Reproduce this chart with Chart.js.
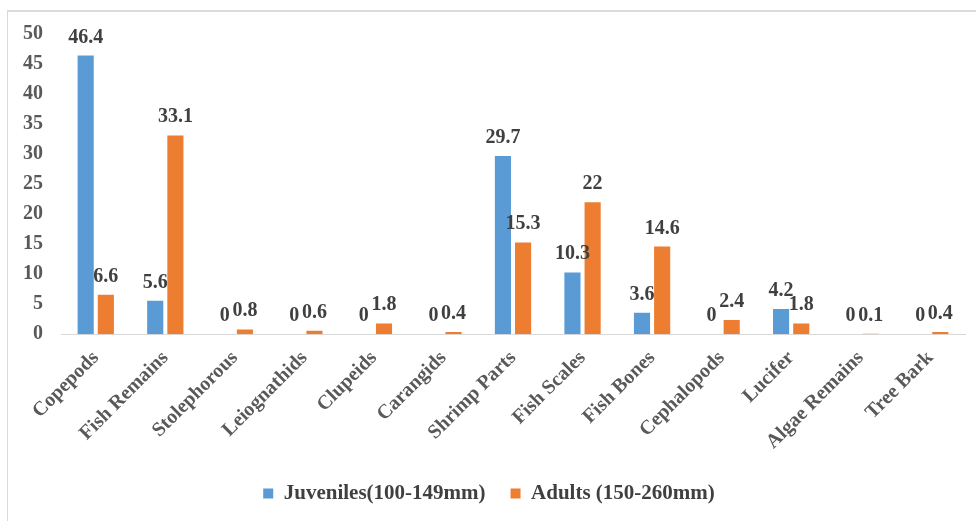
<!DOCTYPE html>
<html>
<head>
<meta charset="utf-8">
<script src="https://cdn.jsdelivr.net/npm/chart.js@4.4.1/dist/chart.umd.min.js"></script>
<style>
  html, body { margin: 0; padding: 0; background: #fff; }
  #frame {
    position: absolute; left: 7px; top: 10px; width: 980px; height: 520px;
    border-left: 1px solid #d9d9d9; border-top: 2px solid #dcdcdc;
  }
  #wrap { position: absolute; left: 0; top: 0; width: 968px; height: 510px; }
</style>
</head>
<body>
<div id="frame"><div id="wrap"><canvas id="chart-bars"></canvas></div></div>
<script>
// categorias de alimento
const categories = ["Copepods", "Fish Remains", "Stolephorous", "Leiognathids", "Clupeids", "Carangids",
  "Shrimp Parts", "Fish Scales", "Fish Bones", "Cephalopods", "Lucifer", "Algae Remains", "Tree Bark"];
const juveniles = [46.4, 5.6, 0, 0, 0, 0, 29.7, 10.3, 3.6, 0, 4.2, 0, 0];
const adults = [6.6, 33.1, 0.8, 0.6, 1.8, 0.4, 15.3, 22, 14.6, 2.4, 1.8, 0.1, 0.4];
const yTicks = [0, 5, 10, 15, 20, 25, 30, 35, 40, 45, 50];

const serif = "'Liberation Serif', 'Times New Roman', serif";

// etiquetas encima de cada barra
const valueLabels = {
  id: "valueLabels",
  afterDatasetsDraw(chart) {
    const c = chart.ctx;
    c.save();
    c.font = "bold 20px " + serif;
    c.fillStyle = "#404040";
    c.textAlign = "center";
    c.textBaseline = "alphabetic";
    chart.data.datasets.forEach((ds, i) => {
      chart.getDatasetMeta(i).data.forEach((bar, j) => {
        c.fillText(String(ds.data[j]), bar.x, bar.y - 13);
      });
    });
    c.restore();
  }
};

const ctx = document.getElementById("chart-bars").getContext("2d");
let myChart = new Chart(ctx, {
  type: "bar",
  data: {
    labels: categories,
    datasets: [
      {
        label: "Juveniles(100-149mm)",
        data: juveniles,
        backgroundColor: "#5b9bd5",
        categoryPercentage: 0.58,
        barPercentage: 0.8,
      },
      {
        label: "Adults (150-260mm)",
        data: adults,
        backgroundColor: "#ed7d31",
        categoryPercentage: 0.58,
        barPercentage: 0.8,
      }
    ],
  },
  options: {
    responsive: true,
    maintainAspectRatio: false,
    animation: false,
    layout: { padding: { left: 5, right: 11, top: 14, bottom: 8 } },
    plugins: {
      tooltip: { enabled: false },
      legend: {
        position: "bottom",
        labels: {
          boxWidth: 10, boxHeight: 10, padding: 25,
          color: "#404040",
          font: { family: serif, size: 21, weight: "bold" },
        },
      },
    },
    scales: {
      x: {
        grid: { display: false },
        border: { display: true, color: "#d9d9d9", width: 1 },
        afterFit(scale) { scale.paddingLeft = 0; scale.paddingRight = 0; },
        ticks: {
          minRotation: 45, maxRotation: 45, padding: 4,
          color: "#595959",
          font: { family: serif, size: 20, weight: "bold" },
        },
      },
      y: {
        min: 0, max: 50,
        grid: { display: false },
        border: { display: false },
        afterBuildTicks(axis) { axis.ticks = yTicks.map(v => ({ value: v })); },
        ticks: {
          padding: 10,
          color: "#595959",
          font: { family: serif, size: 20, weight: "bold" },
        },
      },
    },
  },
  plugins: [valueLabels],
});
</script>
</body>
</html>
